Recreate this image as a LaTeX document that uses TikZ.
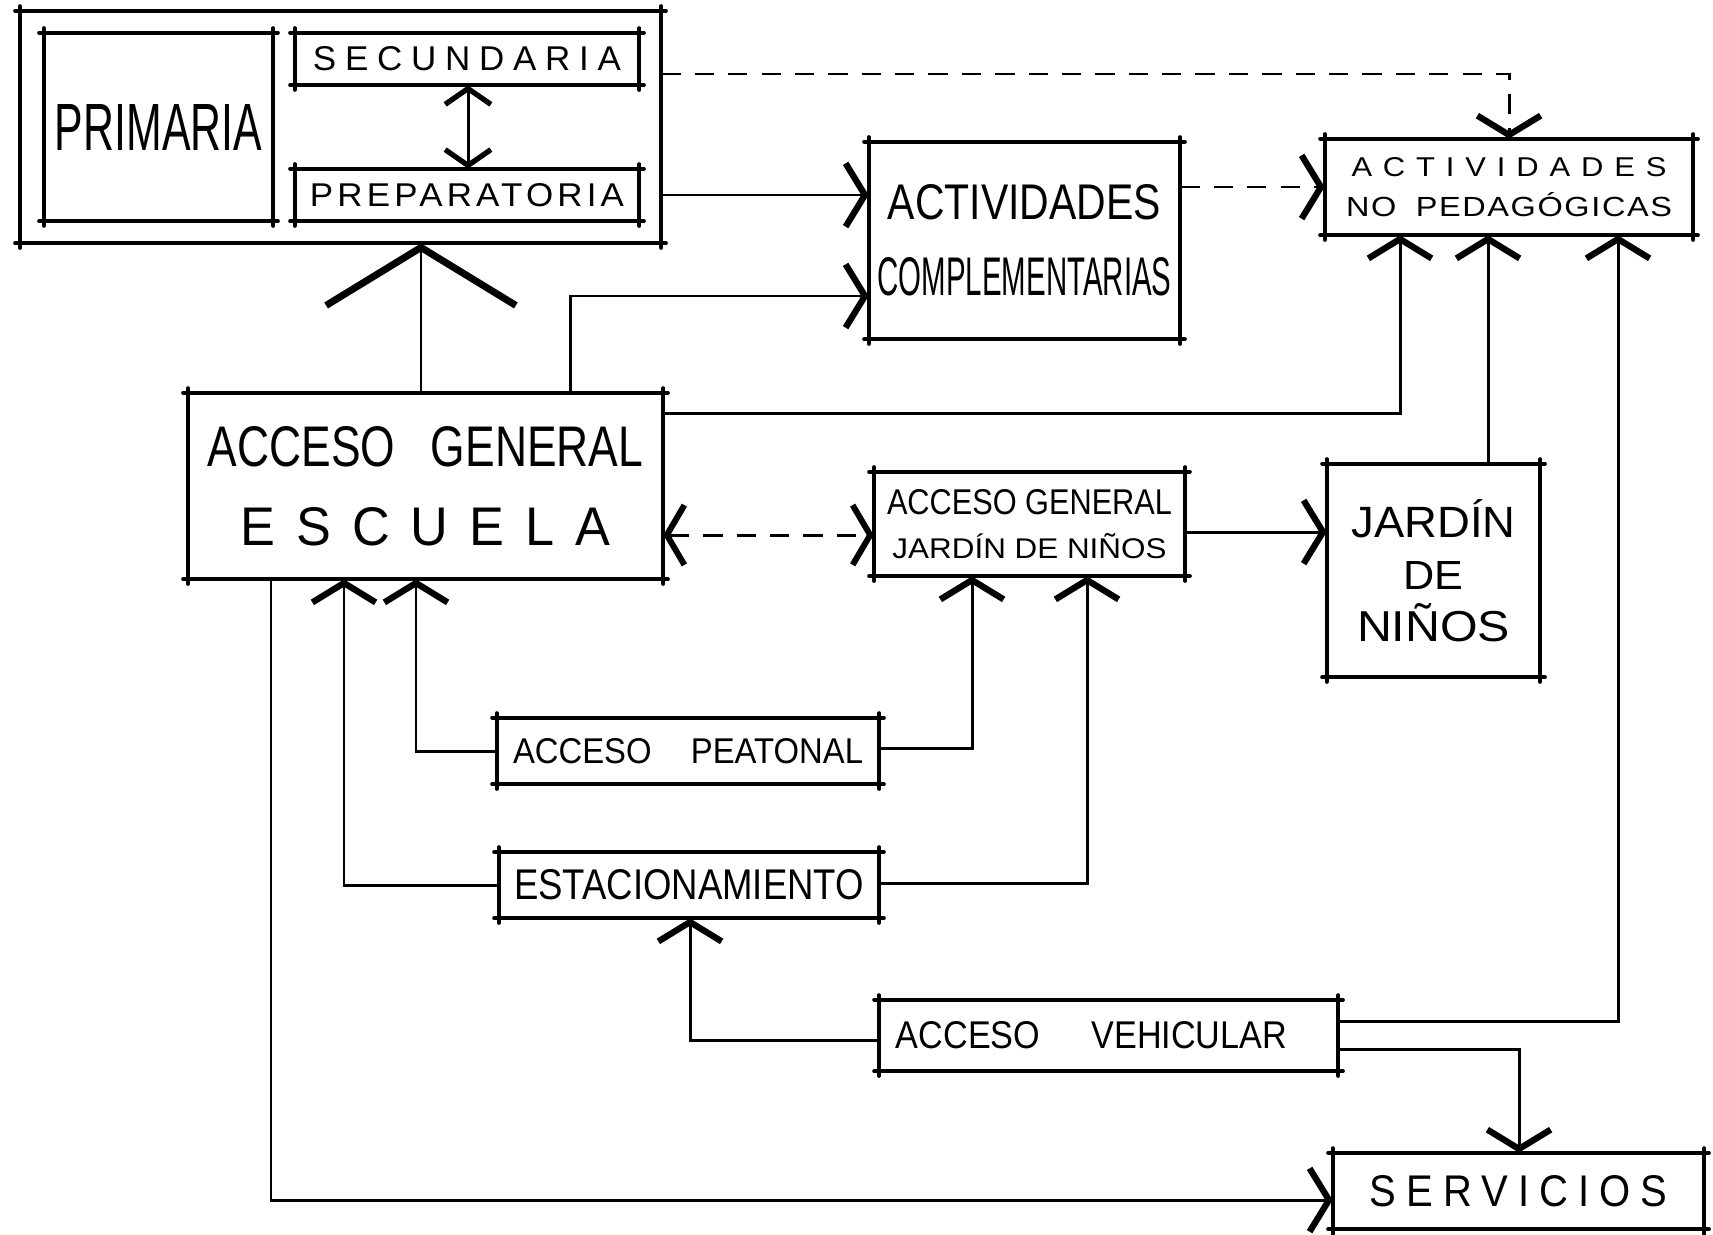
\documentclass[tikz,border=0pt]{standalone}
\usepackage{fontspec}
\setmainfont{Liberation Sans}
\usepackage{graphicx}
\usetikzlibrary{arrows.meta}

\newlength\px
\setlength\px{0.02cm}
% texto ajustado a ancho y alto (en px del dibujo)
\newcommand\rotulo[3]{\resizebox{#1\px}{#2\px}{#3}}
\newcommand\esp[1]{\addfontfeatures{LetterSpace=#1}}

\begin{document}
\begin{tikzpicture}[x=0.02cm,y=-0.02cm,
  caja/.style 2 args={inner sep=0pt,align=center,minimum width=#1\px,minimum height=#2\px},
  borde/.style={line width=2.4pt,line cap=round},
  linea/.style={line width=1.7pt},
  discont/.style={dash pattern=on 11pt off 8pt},
  flecha/.style={linea,-{Straight Barb[length=11pt,width=36pt,line width=3.6pt]}},
  flechados/.style={linea,{Straight Barb[length=9pt,width=26pt,line width=3pt]}-{Straight Barb[length=9pt,width=26pt,line width=3pt]}},
  flechados2/.style={linea,{Straight Barb[length=10pt,width=34pt,line width=3.4pt]}-{Straight Barb[length=10pt,width=34pt,line width=3.4pt]}},
  flechagrande/.style={linea,-{Straight Barb[length=33pt,width=108pt,line width=4pt]}}]
\useasboundingbox (0,0) rectangle (1713,1234);

% cajas
\node[caja={641}{232}] (escuela) at (340.5,127) {};
\node[caja={229}{188}] (prim) at (158.5,127) {\rotulo{207}{46}{PRIMARIA}};
\node[caja={344}{52}] (secu) at (467,59) {\rotulo{308}{24}{\esp{25}SECUNDARIA}};
\node[caja={344}{52}] (prepa) at (467,195) {\rotulo{314}{23}{\esp{12}PREPARATORIA}};
\node[caja={311}{197},font=\fontsize{10}{43.4pt}\selectfont] (actcomp) at (1024.5,240.5)
  {\rotulo{273}{35}{ACTIVIDADES}\\\rotulo{294}{38}{COMPLEMENTARIAS}};
\node[caja={368}{96},font=\fontsize{10}{23pt}\selectfont] (actnoped) at (1509,187)
  {\rotulo{315}{19}{\esp{35}ACTIVIDADES}\\\rotulo{326}{24}{\esp{5}NO\hspace{0.6em}PEDAGÓGICAS}};
\node[caja={475}{186},font=\fontsize{10}{45pt}\selectfont] (acceso) at (425.5,486)
  {\rotulo{435}{40}{ACCESO\hspace{0.8em}GENERAL}\\\rotulo{369}{38}{\esp{40}ESCUELA}};
\node[caja={311}{104},font=\fontsize{10}{24.7pt}\selectfont] (accjardin) at (1029.5,524)
  {\rotulo{285}{25}{ACCESO GENERAL}\\\rotulo{274}{25}{JARDÍN DE NIÑOS}};
\node[caja={213}{213},font=\fontsize{10}{29.5pt}\selectfont] (jardin) at (1433.5,570.5)
  {\rotulo{164}{38}{JARDÍN}\\\rotulo{60}{28}{DE}\\\rotulo{153}{38}{NIÑOS}};
\node[caja={382}{66}] (peatonal) at (688,751) {\rotulo{350}{25}{ACCESO\hspace{1.2em}PEATONAL}};
\node[caja={380}{66}] (estac) at (689,885) {\rotulo{350}{30}{ESTACIONAMIENTO}};
\node[caja={459}{71}] (vehic) at (1108.5,1035.5) {\rotulo{391}{27}{ACCESO\hspace{1.5em}VEHICULAR}\hspace*{34\px}};
\node[caja={371}{76}] (serv) at (1518.5,1191) {\rotulo{297}{31}{\esp{25}SERVICIOS}};

% bordes a mano alzada
\foreach \n in {escuela,prim,secu,prepa,actcomp,actnoped,acceso,accjardin,jardin,peatonal,estac,vehic,serv}{
  \draw[borde] ([xshift=-2.5pt]\n.north west) -- ([xshift=2.5pt]\n.north east)
    ([xshift=-2.5pt]\n.south west) -- ([xshift=2.5pt]\n.south east)
    ([yshift=2.5pt]\n.north west) -- ([yshift=-2.5pt]\n.south west)
    ([yshift=2.5pt]\n.north east) -- ([yshift=-2.5pt]\n.south east);
}

% conexiones
\draw[flechados] (secu.south -| 468,0) -- (prepa.north -| 468,0);
\draw[flechagrande] (acceso.north -| 421,0) -- (escuela.south -| 421,0);
\draw[flecha,discont] (escuela.east |- 0,74) -| (actnoped.north);
\draw[flecha] (escuela.east |- prepa) -- (actcomp.west |- prepa);
\draw[flecha] (acceso.north -| 570,0) |- (actcomp.west |- 0,296);
\draw[flecha,discont] (actcomp.east |- actnoped.west) -- (actnoped.west);
\draw[flecha] (acceso.east |- 0,413) -| (actnoped.south -| 1400,0);
\draw[flecha] (jardin.north -| 1488,0) -- (actnoped.south -| 1488,0);
\draw[flecha] (vehic.east |- 0,1021) -| (actnoped.south -| 1618,0);
\draw[flechados2,discont] (acceso.east |- 0,535) -- (accjardin.west |- 0,535);
\draw[flecha] (accjardin.east |- 0,532) -- (jardin.west |- 0,532);
\draw[flecha] (peatonal.west |- 0,751) -| (acceso.south -| 416,0);
\draw[flecha] (peatonal.east |- 0,748) -| (accjardin.south -| 972,0);
\draw[flecha] (estac.west |- 0,885) -| (acceso.south -| 344,0);
\draw[flecha] (estac.east |- 0,883) -| (accjardin.south -| 1087,0);
\draw[flecha] (vehic.west |- 0,1040) -| (estac.south -| 690,0);
\draw[flecha] (vehic.east |- 0,1049) -| (serv.north -| 1519,0);
\draw[flecha] (acceso.south -| 271,0) |- (serv.west |- 0,1200);
\end{tikzpicture}
\end{document}
